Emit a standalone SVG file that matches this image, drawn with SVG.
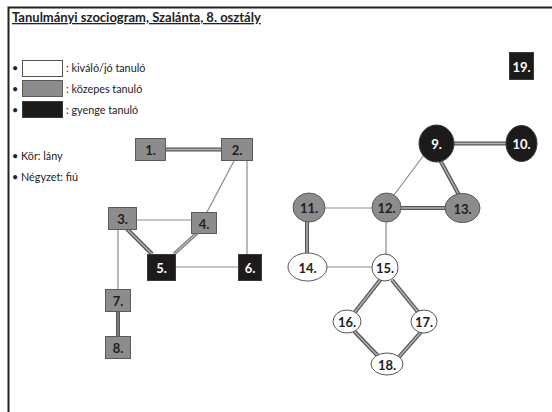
<svg xmlns="http://www.w3.org/2000/svg" width="552" height="412" viewBox="0 0 552 412">
<style>
text{font-family:Lato,"Open Sans","Liberation Sans",sans-serif;}
.lbl{font-size:13px;font-weight:bold;text-anchor:middle;dominant-baseline:central;fill:#1e1e1e;}
.w{fill:#fff;}
.leg{font-size:10.8px;fill:#222;}
.g{fill:#8c8c8c;stroke:#5a5a5a;stroke-width:1;}
.b{fill:#1c1a1b;stroke:#3a3a3a;stroke-width:1;}
.o{fill:#fff;stroke:#555;stroke-width:1;}
.thin{stroke:#8a8a8a;stroke-width:1.2;fill:none;}
.dbo{stroke:#555;stroke-width:4;fill:none;}
.dbi{stroke:#b5b5b5;stroke-width:1.5;fill:none;}
</style>
<rect x="0" y="0" width="552" height="412" fill="#fff"/>
<path d="M8.5 420 V7.5 H560" fill="none" stroke="#222" stroke-width="2"/>
<g id="title">
<text x="12" y="22" style="font-size:13px;font-weight:bold;fill:#222" text-decoration="underline">Tanulmányi szociogram, Szalánta, 8. osztály</text>
</g>
<g id="legend">
<text x="12" y="72" class="leg">•</text>
<rect x="22.5" y="60.5" width="40" height="16" class="o"/>
<text x="66" y="72" class="leg">: kiváló/jó tanuló</text>
<text x="12" y="93" class="leg">•</text>
<rect x="22.5" y="80.5" width="40" height="16" class="g"/>
<text x="66" y="93" class="leg">: közepes tanuló</text>
<text x="12" y="114" class="leg">•</text>
<rect x="22.5" y="101.5" width="40" height="16" class="b"/>
<text x="66" y="114" class="leg">: gyenge tanuló</text>
<text x="12" y="160" class="leg">• Kör: lány</text>
<text x="12" y="181" class="leg">• Négyzet: fiú</text>
</g>
<g id="connectors">
<line x1="166" y1="149.5" x2="221" y2="149.5" class="dbo"/><line x1="166" y1="149.5" x2="221" y2="149.5" class="dbi"/>
<line x1="234" y1="161" x2="207" y2="212" class="thin"/>
<line x1="247" y1="161" x2="247" y2="254" class="thin"/>
<line x1="137" y1="220" x2="191" y2="220" class="thin"/>
<line x1="127" y1="229" x2="152" y2="254" class="dbo"/><line x1="127" y1="229" x2="152" y2="254" class="dbi"/>
<line x1="197" y1="233" x2="174" y2="254" class="dbo" style="stroke-width:3.5;stroke:#777"/><line x1="197" y1="233" x2="174" y2="254" class="dbi"/>
<line x1="176" y1="267" x2="238" y2="267" class="thin"/>
<line x1="118" y1="229" x2="118" y2="289" class="thin"/>
<line x1="118" y1="311" x2="118" y2="336" class="dbo"/><line x1="118" y1="311" x2="118" y2="336" class="dbi" style="stroke:#888"/>
<line x1="454" y1="143.5" x2="506" y2="143.5" class="dbo"/><line x1="454" y1="143.5" x2="506" y2="143.5" class="dbi"/>
<line x1="424" y1="155" x2="394" y2="195" class="thin"/>
<line x1="440" y1="160" x2="459" y2="195" class="dbo"/><line x1="440" y1="160" x2="459" y2="195" class="dbi"/>
<line x1="325" y1="208" x2="372" y2="208" class="thin"/>
<line x1="401" y1="208" x2="445" y2="208" class="dbo"/><line x1="401" y1="208" x2="445" y2="208" class="dbi"/>
<line x1="307" y1="222" x2="307" y2="253" class="dbo"/><line x1="307" y1="222" x2="307" y2="253" class="dbi"/>
<line x1="386" y1="222" x2="386" y2="254" class="thin"/>
<line x1="327" y1="267" x2="372" y2="267" class="thin"/>
<line x1="381" y1="279" x2="355" y2="312" class="dbo"/><line x1="381" y1="279" x2="355" y2="312" class="dbi"/>
<line x1="392" y1="280" x2="418" y2="312" class="dbo"/><line x1="392" y1="280" x2="418" y2="312" class="dbi"/>
<line x1="354" y1="331" x2="378" y2="356" class="dbo"/><line x1="354" y1="331" x2="378" y2="356" class="dbi"/>
<line x1="421" y1="332" x2="399" y2="357" class="dbo"/><line x1="421" y1="332" x2="399" y2="357" class="dbi"/>
</g>
<g id="n1"><rect x="135.5" y="138.5" width="30" height="22" class="g"/><text x="150.5" y="150" class="lbl">1.</text></g>
<g id="n2"><rect x="221.5" y="138.5" width="31" height="22" class="g"/><text x="237" y="150" class="lbl">2.</text></g>
<g id="n3"><rect x="108.5" y="207.5" width="28" height="22" class="g"/><text x="122.5" y="219" class="lbl">3.</text></g>
<g id="n4"><rect x="191.5" y="212.5" width="25" height="21" class="g"/><text x="204" y="223.5" class="lbl">4.</text></g>
<g id="n5"><rect x="147.5" y="254.5" width="28" height="26" class="b"/><text x="161.5" y="268" class="lbl w">5.</text></g>
<g id="n6"><rect x="238.5" y="254.5" width="23" height="26" class="b"/><text x="250" y="268" class="lbl w">6.</text></g>
<g id="n7"><rect x="105.5" y="289.5" width="25" height="22" class="g"/><text x="118" y="301" class="lbl">7.</text></g>
<g id="n8"><rect x="105.5" y="336.5" width="25" height="22" class="g"/><text x="118" y="348" class="lbl">8.</text></g>
<g id="n19"><rect x="509.5" y="52.5" width="24" height="27" class="b"/><text x="521.5" y="66.5" class="lbl w">19.</text></g>
<g id="n9"><ellipse cx="436.5" cy="143.5" rx="17.5" ry="18.5" class="b"/><text x="436.5" y="143.5" class="lbl w">9.</text></g>
<g id="n10"><ellipse cx="521.5" cy="143.5" rx="15.5" ry="18" class="b"/><text x="521.5" y="143.5" class="lbl w">10.</text></g>
<g id="n11"><ellipse cx="309" cy="207.5" rx="16" ry="14.5" class="g"/><text x="309" y="208" class="lbl">11.</text></g>
<g id="n12"><ellipse cx="386.5" cy="207.5" rx="14.5" ry="14.5" class="g"/><text x="386.5" y="208" class="lbl">12.</text></g>
<g id="n13"><ellipse cx="462.5" cy="208" rx="17.5" ry="14.5" class="g"/><text x="462.5" y="208.5" class="lbl">13.</text></g>
<g id="n14"><ellipse cx="307.5" cy="267" rx="19.5" ry="14" class="o"/><text x="307.5" y="267.5" class="lbl">14.</text></g>
<g id="n15"><ellipse cx="385" cy="267.5" rx="13" ry="13.5" class="o"/><text x="385" y="268" class="lbl">15.</text></g>
<g id="n16"><ellipse cx="347" cy="321.5" rx="14" ry="11.5" class="o"/><text x="347" y="322" class="lbl">16.</text></g>
<g id="n17"><ellipse cx="424" cy="321.5" rx="13" ry="11.5" class="o"/><text x="424" y="322" class="lbl">17.</text></g>
<g id="n18"><ellipse cx="387" cy="364" rx="16" ry="11" class="o"/><text x="387" y="364.5" class="lbl">18.</text></g>
</svg>
